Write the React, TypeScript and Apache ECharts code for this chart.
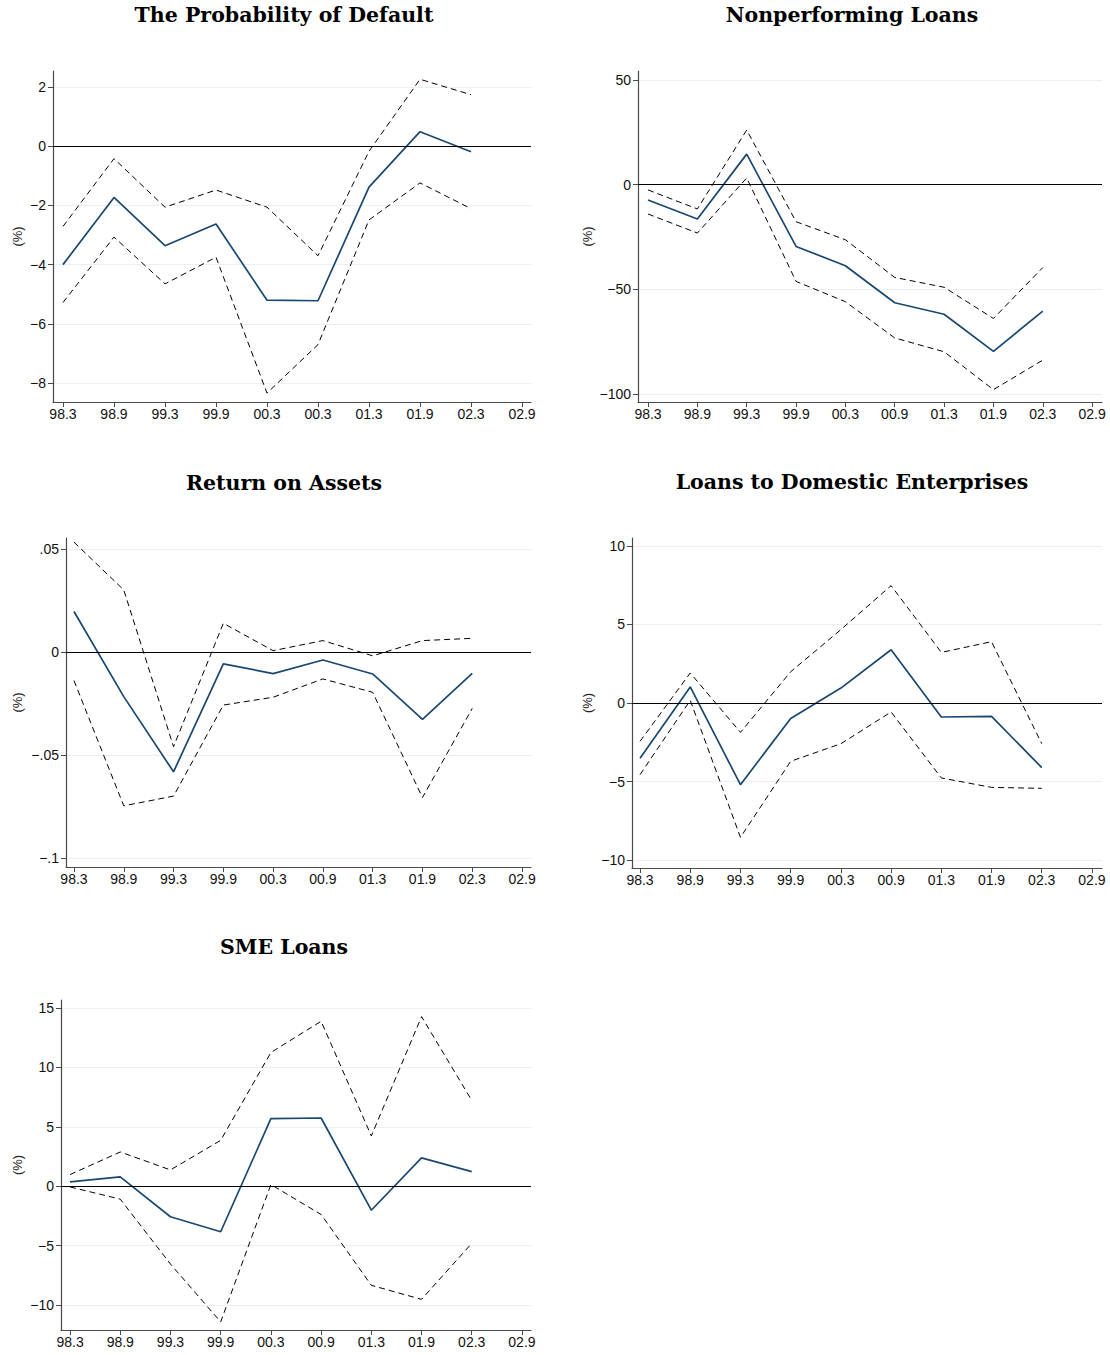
import React, { useEffect, useRef } from "react";
import * as echarts from "echarts";

// Quarter labels on the horizontal axis (the first panel repeats 00.3)
const periodsPD = ["98.3", "98.9", "99.3", "99.9", "00.3", "00.3", "01.3", "01.9", "02.3", "02.9"];
const periods = ["98.3", "98.9", "99.3", "99.9", "00.3", "00.9", "01.3", "01.9", "02.3", "02.9"];

// The Probability of Default
const pdEstimate = [-4.0, -1.73, -3.36, -2.63, -5.2, -5.22, -1.38, 0.49, -0.19];
const pdUpper = [-2.71, -0.42, -2.06, -1.48, -2.06, -3.7, -0.17, 2.26, 1.74];
const pdLower = [-5.28, -3.07, -4.65, -3.75, -8.34, -6.7, -2.49, -1.24, -2.11];
const pdTicks = [-8, -6, -4, -2, 0, 2];

// Nonperforming Loans
const nplEstimate = [-7.3, -16.4, 14.6, -29.5, -38.7, -56.4, -61.9, -79.6, -60.4];
const nplUpper = [-2.5, -11.6, 26.1, -17.7, -26.3, -44.3, -49.0, -63.9, -39.6];
const nplLower = [-14.0, -23.1, 3.2, -46.2, -55.9, -73.2, -79.8, -97.9, -83.8];
const nplTicks = [-100, -50, 0, 50];

// Return on Assets
const roaEstimate = [0.0196, -0.0217, -0.0582, -0.0058, -0.0105, -0.0039, -0.0107, -0.0327, -0.0104];
const roaUpper = [0.0533, 0.0301, -0.046, 0.0139, 0.0006, 0.0055, -0.0019, 0.0055, 0.0066];
const roaLower = [-0.0139, -0.0747, -0.07, -0.0258, -0.022, -0.0131, -0.0196, -0.0707, -0.0274];
const roaTicks = [-0.1, -0.05, 0, 0.05];
const roaTickLabels = ["\u2212.1", "\u2212.05", "0", ".05"];

// Loans to Domestic Enterprises
const ldeEstimate = [-3.52, 1.02, -5.2, -0.98, 0.95, 3.39, -0.89, -0.85, -4.11];
const ldeUpper = [-2.44, 1.91, -1.87, 1.99, 4.67, 7.47, 3.22, 3.9, -2.59];
const ldeLower = [-4.56, 0.17, -8.55, -3.71, -2.59, -0.57, -4.77, -5.37, -5.43];
const ldeTicks = [-10, -5, 0, 5, 10];

// SME Loans
const smeEstimate = [0.36, 0.78, -2.57, -3.83, 5.68, 5.74, -2.02, 2.38, 1.23];
const smeUpper = [0.98, 2.88, 1.37, 3.86, 11.25, 13.88, 4.23, 14.27, 7.22];
const smeLower = [-0.06, -1.09, -6.55, -11.42, 0.14, -2.38, -8.34, -9.52, -4.81];
const smeTicks = [-10, -5, 0, 5, 10, 15];

const minusLabel = (v: number) => String(v).replace("-", "\u2212");

type Panel = {
  title: string;
  labels: string[];
  est: number[];
  up: number[];
  lo: number[];
  ticks: number[];
  tickLabels?: string[];
  grid: { left: number; top: number; width: number; height: number };
  xMin: number;
  xMax: number;
  yMin: number;
  yMax: number;
  nameGap: number;
  titleX: number;
  titleY: number;
};

const panels: Panel[] = [
  {
    title: "The Probability of Default",
    labels: periodsPD, est: pdEstimate, up: pdUpper, lo: pdLower, ticks: pdTicks,
    grid: { left: 53, top: 71, width: 478, height: 331 },
    xMin: -0.196, xMax: 9.176, yMin: -8.64, yMax: 2.54, nameGap: 29,
    titleX: 284, titleY: 15,
  },
  {
    title: "Nonperforming Loans",
    labels: periods, est: nplEstimate, up: nplUpper, lo: nplLower, ticks: nplTicks,
    grid: { left: 638, top: 71, width: 464, height: 331 },
    xMin: -0.203, xMax: 9.2, yMin: -103.8, yMax: 54.3, nameGap: 44,
    titleX: 852, titleY: 15,
  },
  {
    title: "Return on Assets",
    labels: periods, est: roaEstimate, up: roaUpper, lo: roaLower, ticks: roaTicks, tickLabels: roaTickLabels,
    grid: { left: 66, top: 538, width: 465, height: 329 },
    xMin: -0.16, xMax: 9.18, yMin: -0.1044, yMax: 0.0553, nameGap: 42,
    titleX: 284, titleY: 483,
  },
  {
    title: "Loans to Domestic Enterprises",
    labels: periods, est: ldeEstimate, up: ldeUpper, lo: ldeLower, ticks: ldeTicks,
    grid: { left: 632, top: 538, width: 470, height: 330 },
    xMin: -0.16, xMax: 9.2, yMin: -10.5, yMax: 10.5, nameGap: 38,
    titleX: 852, titleY: 482,
  },
  {
    title: "SME Loans",
    labels: periods, est: smeEstimate, up: smeUpper, lo: smeLower, ticks: smeTicks,
    grid: { left: 61, top: 1000, width: 470, height: 330 },
    xMin: -0.18, xMax: 9.18, yMin: -12.1, yMax: 15.67, nameGap: 37,
    titleX: 284, titleY: 947,
  },
];

const xTickValues = [0, 1, 2, 3, 4, 5, 6, 7, 8, 9];

const AXIS_COLOR = "#4a4a4a";
const GRID_COLOR = "#e8f0f2";
const EST_COLOR = "#1a476f";
const LABEL_FONT = "Liberation Sans";

function buildOption() {
  const grid: any[] = [];
  const xAxis: any[] = [];
  const yAxis: any[] = [];
  const series: any[] = [];
  const graphic: any[] = [];

  panels.forEach((p, i) => {
    grid.push({ ...p.grid, containLabel: false, outerBoundsMode: "none" });

    xAxis.push({
      type: "value",
      gridIndex: i,
      min: p.xMin,
      max: p.xMax,
      axisLine: { show: true, onZero: false, lineStyle: { color: AXIS_COLOR, width: 1.2 } },
      axisTick: { show: true, length: 5, customValues: xTickValues, lineStyle: { color: AXIS_COLOR } },
      axisLabel: {
        show: true,
        customValues: xTickValues,
        margin: 5,
        color: "#111",
        fontFamily: LABEL_FONT,
        fontSize: 14,
        formatter: (v: number) => p.labels[Math.round(v)] ?? "",
      },
      splitLine: { show: false },
    });

    yAxis.push({
      type: "value",
      gridIndex: i,
      min: p.yMin,
      max: p.yMax,
      name: "(%)",
      nameLocation: "middle",
      nameRotate: 90,
      nameGap: p.nameGap,
      nameTextStyle: { color: "#222", fontFamily: LABEL_FONT, fontSize: 13 },
      axisLine: { show: true, onZero: false, lineStyle: { color: AXIS_COLOR, width: 1.2 } },
      axisTick: { show: true, length: 5, customValues: p.ticks, lineStyle: { color: AXIS_COLOR } },
      axisLabel: {
        show: true,
        customValues: p.ticks,
        margin: 7,
        color: "#111",
        fontFamily: LABEL_FONT,
        fontSize: 14,
        formatter: (v: number) => {
          if (p.tickLabels) {
            const k = p.ticks.findIndex((t) => Math.abs(t - v) < 1e-9);
            return k >= 0 ? p.tickLabels[k] : "";
          }
          return minusLabel(v);
        },
      },
      splitLine: { show: true, lineStyle: { color: GRID_COLOR, width: 1.2 } },
    });

    const toPoints = (arr: number[]) => arr.map((v, k) => [k, v]);

    series.push({
      type: "line",
      xAxisIndex: i,
      yAxisIndex: i,
      data: toPoints(p.up),
      symbol: "none",
      lineStyle: { color: "#000", width: 1, type: [6, 4] },
      z: 2,
    });
    series.push({
      type: "line",
      xAxisIndex: i,
      yAxisIndex: i,
      data: toPoints(p.lo),
      symbol: "none",
      lineStyle: { color: "#000", width: 1, type: [6, 4] },
      z: 2,
    });
    series.push({
      type: "line",
      xAxisIndex: i,
      yAxisIndex: i,
      data: toPoints(p.est),
      symbol: "none",
      lineStyle: { color: EST_COLOR, width: 1.7 },
      z: 3,
      markLine: {
        silent: true,
        symbol: "none",
        label: { show: false },
        lineStyle: { color: "#000", width: 1.1, type: "solid" },
        data: [{ yAxis: 0 }],
      },
    });

    graphic.push({
      type: "text",
      x: p.titleX,
      y: p.titleY,
      style: {
        text: p.title,
        fill: "#000",
        font: "bold 20.5px 'DejaVu Serif'",
        textAlign: "center",
        textVerticalAlign: "middle",
      },
    });
  });

  return {
    animation: false,
    backgroundColor: "#ffffff",
    grid,
    xAxis,
    yAxis,
    series,
    graphic,
  };
}

export default function App() {
  const ref = useRef<HTMLDivElement>(null);

  useEffect(() => {
    if (!ref.current) return;
    const chart = echarts.init(ref.current, null, { renderer: "svg" });
    chart.setOption(buildOption() as any);
    return () => chart.dispose();
  }, []);

  return (
    <div
      ref={ref}
      style={{ position: "absolute", left: 0, top: 0, width: 1110, height: 1355, background: "#fff" }}
    />
  );
}
